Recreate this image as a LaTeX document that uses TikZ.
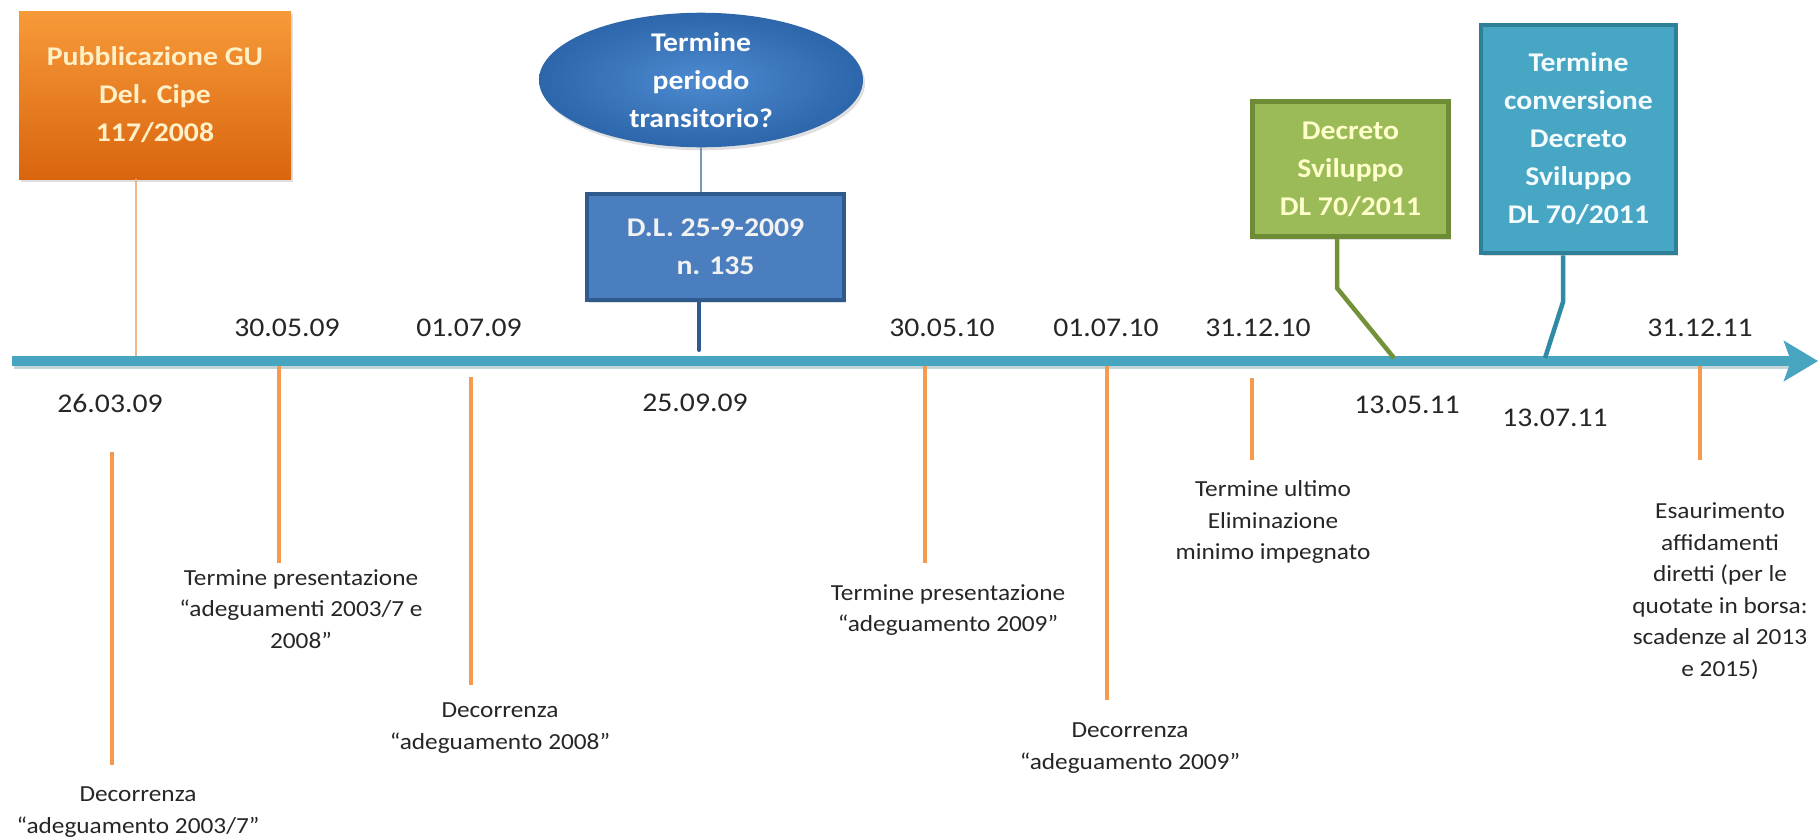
\documentclass[tikz,border=0pt]{standalone}
\usepackage{fontspec}
\setmainfont{Carlito}[FakeStretch=1.1]
\usetikzlibrary{arrows.meta,shapes.geometric,shadows}
\definecolor{tlc}{HTML}{47A5BF}
\definecolor{tlshadow}{HTML}{9CB9C2}
\definecolor{orTop}{HTML}{F79A3A}
\definecolor{orBot}{HTML}{D9650E}
\definecolor{orTxt}{HTML}{FFF0C8}
\definecolor{elIn}{HTML}{4D8AD0}
\definecolor{elOut}{HTML}{2D66AA}
\definecolor{bbFill}{HTML}{4A7EBF}
\definecolor{bbBorder}{HTML}{2F5A8E}
\definecolor{gbFill}{HTML}{9BBB59}
\definecolor{gbBorder}{HTML}{6E8B35}
\definecolor{gbTxt}{HTML}{FFFFCC}
\definecolor{tbFill}{HTML}{47A6C4}
\definecolor{tbBorder}{HTML}{2E8099}
\definecolor{tickc}{HTML}{F59A4F}
\definecolor{thinor}{HTML}{F2B48A}
\definecolor{thinbl}{HTML}{7A96B8}
\definecolor{txt}{HTML}{262626}
\definecolor{grline}{HTML}{74913A}
\definecolor{tlline}{HTML}{2F8AA5}
\begin{document}
\begin{tikzpicture}[x=1pt,y=-1pt,
  boxtext/.style={align=center, inner sep=0pt, font=\bfseries\fontsize{27}{38}\selectfont},
  shad/.style={drop shadow={opacity=0.25, shadow xshift=2pt, shadow yshift=-3pt}},
  obox/.style={boxtext, rectangle, minimum width=272pt, minimum height=168pt, top color=orTop, bottom color=orBot, text=orTxt, shad},
  ell/.style={boxtext, ellipse, minimum width=324pt, minimum height=134pt, inner color=elIn, outer color=elOut, text=white, shad},
  bbox/.style={boxtext, rectangle, draw=bbBorder, line width=3.5pt, fill=bbFill, minimum width=257pt, minimum height=106pt, text=white!95!black, shad},
  gbox/.style={boxtext, rectangle, draw=gbBorder, line width=5pt, fill=gbFill, minimum width=196pt, minimum height=135pt, text=gbTxt, shad},
  tbox/.style={boxtext, rectangle, draw=tbBorder, line width=4.5pt, fill=tbFill, minimum width=195pt, minimum height=228pt, text=white!96!cyan, shad},
  datelbl/.style={inner sep=0pt, text=txt, font=\fontsize{27}{30}\selectfont},
  note/.style={inner sep=0pt, align=center, text=txt, font=\fontsize{23}{31.5}\selectfont},
  tickline/.style={draw=tickc, line width=3.5pt},
]
\useasboundingbox (0,0) rectangle (1820,836);

% timeline
\coordinate (tls) at (12,361);
\coordinate (tle) at (1818,361);
\coordinate (tlss) at (14,366);
\coordinate (tles) at (1790,366);
\draw[tlshadow, line width=6pt, opacity=0.6] (tlss) -- (tles);
\draw[tlc, line width=10pt, -{Stealth[length=34pt,width=40pt,inset=7pt]}] (tls) -- (tle);

% top boxes
\node[obox] (ob) at (155,95) {Pubblicazione GU\\Del. Cipe\\117/2008};
\node[ell] (el) at (701,80) {Termine\\periodo\\transitorio?};
\node[bbox] (bb) at (715.5,247) {D.L. 25-9-2009\\n. 135};
\node[gbox] (gb) at (1350.5,169) {Decreto\\Sviluppo\\DL 70/2011};
\node[tbox] (tb) at (1578.5,139) {Termine\\conversione\\Decreto\\Sviluppo\\DL 70/2011};

% connectors from boxes to timeline
\coordinate (oT) at (136,356);
\draw[thinor, line width=1.6pt] (ob.south -| oT) -- (oT);
\draw[thinbl, line width=1.6pt] (el.south) -- (el.south |- bb.north);
\coordinate (bT) at (699,350);
\draw[bbBorder, line width=4pt, line cap=round] (bb.south -| bT) -- (bT);
\coordinate (gK) at (1337,288);
\coordinate (gT) at (1394,358);
\draw[grline, line width=4.5pt] (gb.south -| gK) -- (gK) -- (gT);
\coordinate (tK) at (1563,302);
\coordinate (tT) at (1545,358);
\draw[tlline, line width=4.5pt] (tb.south -| tK) -- (tK) -- (tT);

% dates
\node[datelbl] (d1) at (110,403) {26.03.09};
\node[datelbl] (d2) at (287,328) {30.05.09};
\node[datelbl] (d3) at (469,328) {01.07.09};
\node[datelbl] (d4) at (695,403) {25.09.09};
\node[datelbl] (d5) at (942,328) {30.05.10};
\node[datelbl] (d6) at (1106,328) {01.07.10};
\node[datelbl] (d7) at (1258,328) {31.12.10};
\node[datelbl] (d8) at (1407,405) {13.05.11};
\node[datelbl] (d9) at (1555,418) {13.07.11};
\node[datelbl] (d10) at (1700,328) {31.12.11};

% ticks
\coordinate (k1a) at (112,452);  \coordinate (k1b) at (112,765);
\coordinate (k2a) at (279,366);  \coordinate (k2b) at (279,563);
\coordinate (k3a) at (471,377);  \coordinate (k3b) at (471,685);
\coordinate (k4a) at (925,366);  \coordinate (k4b) at (925,563);
\coordinate (k5a) at (1107,366); \coordinate (k5b) at (1107,700);
\coordinate (k6a) at (1252,378); \coordinate (k6b) at (1252,460);
\coordinate (k7a) at (1700,366); \coordinate (k7b) at (1700,460);
\foreach \k in {1,...,7} {\draw[tickline] (k\k a) -- (k\k b);}

% notes
\node[note] (n1) at (138,812) {Decorrenza\\“adeguamento 2003/7”};
\node[note] (n2) at (301,609) {Termine presentazione\\“adeguamenti 2003/7 e\\2008”};
\node[note] (n3) at (500,728) {Decorrenza\\“adeguamento 2008”};
\node[note] (n4) at (948,610) {Termine presentazione\\“adeguamento 2009”};
\node[note] (n5) at (1130,748) {Decorrenza\\“adeguamento 2009”};
\node[note] (n6) at (1273,522) {Termine ultimo\\Eliminazione\\minimo impegnato};
\node[note] (n7) at (1720,591) {Esaurimento\\affidamenti\\diretti (per le\\quotate in borsa:\\scadenze al 2013\\e 2015)};
\end{tikzpicture}
\end{document}
